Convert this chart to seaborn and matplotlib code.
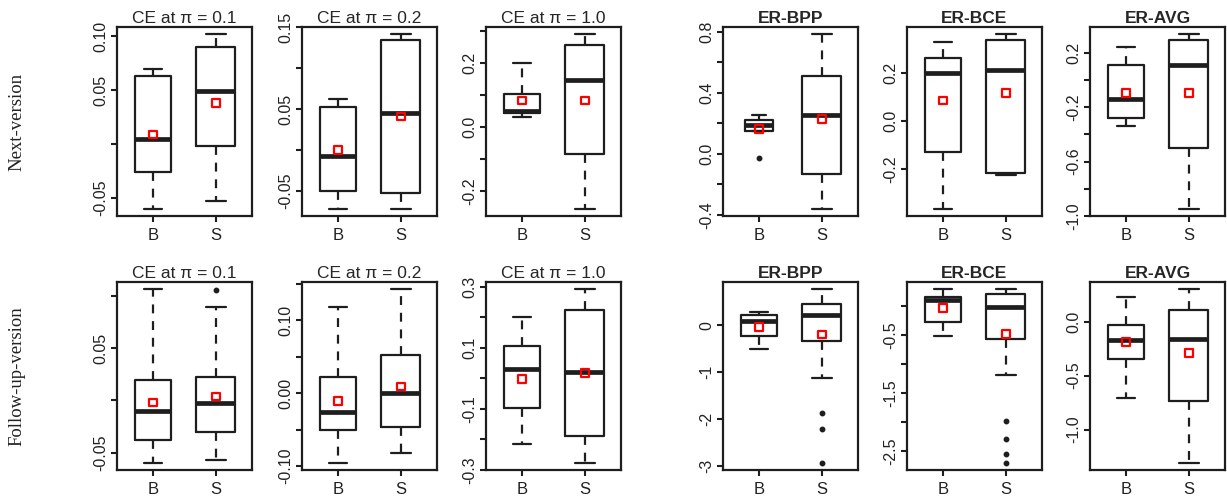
import numpy as np
import pandas as pd
import matplotlib
matplotlib.use("Agg")
import matplotlib.pyplot as plt
import seaborn as sns

sns.set_theme(style="ticks")
plt.rcParams["font.family"] = ["Liberation Sans", "DejaVu Sans"]

titles = ["CE at π = 0.1", "CE at π = 0.2", "CE at π = 1.0", "ER-BPP", "ER-BCE", "ER-AVG"]
row_labels = ["Next-version", "Follow-up-version"]
groups = ["B", "S"]

# box summaries: (lower whisker, Q1, median, Q3, upper whisker)
next_b = [(-0.060, -0.026, 0.005, 0.063, 0.070),
          (-0.072, -0.050, -0.007, 0.053, 0.063),
          (0.031, 0.043, 0.050, 0.103, 0.200),
          (0.150, 0.153, 0.192, 0.223, 0.257),
          (-0.365, -0.128, 0.200, 0.262, 0.328),
          (-0.336, -0.277, -0.141, 0.106, 0.237)]
next_s = [(-0.053, -0.002, 0.049, 0.090, 0.102),
          (-0.072, -0.053, 0.046, 0.135, 0.142),
          (-0.257, -0.084, 0.145, 0.257, 0.290),
          (-0.362, -0.135, 0.257, 0.510, 0.787),
          (-0.223, -0.215, 0.209, 0.336, 0.360),
          (-0.948, -0.504, 0.106, 0.293, 0.336)]
follow_b = [(-0.060, -0.038, -0.010, 0.020, 0.107),
            (-0.096, -0.050, -0.026, 0.022, 0.118),
            (-0.216, -0.097, 0.032, 0.106, 0.200),
            (-0.500, -0.238, 0.086, 0.216, 0.287),
            (-0.510, -0.276, 0.114, 0.154, 0.300),
            (-0.710, -0.350, -0.172, -0.031, 0.234)]
follow_s = [(-0.057, -0.030, -0.002, 0.023, 0.090),
            (-0.082, -0.046, 0.000, 0.053, 0.143),
            (-0.277, -0.190, 0.021, 0.225, 0.293),
            (-1.116, -0.338, 0.216, 0.453, 0.770),
            (-1.180, -0.556, -0.014, 0.218, 0.300),
            (-1.310, -0.734, -0.156, 0.110, 0.304)]

next_b_mean = [0.009, 0.000, 0.082, 0.162, 0.084, -0.096]
next_s_mean = [0.038, 0.041, 0.082, 0.230, 0.116, -0.096]
follow_b_mean = [-0.002, -0.011, -0.001, -0.036, -0.030, -0.187]
follow_s_mean = [0.004, 0.009, 0.018, -0.194, -0.480, -0.287]

next_b_out = [[], [], [], [-0.027], [], []]
next_s_out = [[], [], [], [], [], []]
follow_b_out = [[], [], [], [], [], []]
follow_s_out = [[0.106], [], [], [-1.872, -2.21, -2.93], [-1.97, -2.29, -2.55, -2.70], []]

next_ticks = [[-0.05, 0.0, 0.05, 0.10],
              [-0.05, 0.0, 0.05, 0.10, 0.15],
              [-0.2, -0.1, 0.0, 0.1, 0.2, 0.3],
              [-0.4, -0.2, 0.0, 0.2, 0.4, 0.6, 0.8],
              [-0.2, 0.0, 0.2],
              [-1.0, -0.8, -0.6, -0.4, -0.2, 0.0, 0.2]]
next_labels = [["-0.05", "", "0.05", "0.10"],
               ["-0.05", "", "0.05", "", "0.15"],
               ["-0.2", "", "0.0", "", "0.2", ""],
               ["-0.4", "", "0.0", "", "0.4", "", "0.8"],
               ["-0.2", "0.0", "0.2"],
               ["-1.0", "", "-0.6", "", "-0.2", "", "0.2"]]
follow_ticks = [[-0.05, 0.0, 0.05, 0.10],
                [-0.10, -0.05, 0.0, 0.05, 0.10, 0.15],
                [-0.3, -0.2, -0.1, 0.0, 0.1, 0.2, 0.3],
                [-3, -2, -1, 0],
                [-2.5, -2.0, -1.5, -1.0, -0.5, 0.0],
                [-1.0, -0.5, 0.0]]
follow_labels = [["-0.05", "", "0.05", ""],
                 ["-0.10", "", "0.00", "", "0.10", ""],
                 ["-0.3", "", "-0.1", "", "0.1", "", "0.3"],
                 ["-3", "-2", "-1", "0"],
                 ["-2.5", "", "-1.5", "", "-0.5", ""],
                 ["-1.0", "-0.5", "0.0"]]

ink = "#1e1e1e"
lefts = [117, 302, 486, 723, 907, 1090]
W, H = 1227, 499

fig = plt.figure(figsize=(12.27, 4.99), dpi=100)


def draw_panel(ax, b, s, bmean, smean, bout, sout, title, ticks, labels, bold, widths):
    stats = [dict(whislo=b[0], q1=b[1], med=b[2], q3=b[3], whishi=b[4], fliers=bout, label="B"),
             dict(whislo=s[0], q1=s[1], med=s[2], q3=s[3], whishi=s[4], fliers=sout, label="S")]
    ax.bxp(stats, positions=[1, 2], widths=widths, showfliers=True,
           boxprops=dict(color=ink, lw=1.6),
           medianprops=dict(color=ink, lw=3.4, solid_capstyle="butt"),
           whiskerprops=dict(color=ink, lw=1.6, linestyle=(0, (4, 3.5))),
           capprops=dict(color=ink, lw=1.6),
           flierprops=dict(marker="o", markersize=3.2, markerfacecolor=ink,
                           markeredgecolor=ink, linestyle="none"))
    means = pd.DataFrame({"x": [1, 2], "y": [bmean, smean]})
    sns.scatterplot(data=means, x="x", y="y", ax=ax, marker="s", s=30, color="red",
                    facecolor="none", edgecolor="red", linewidth=1.6, zorder=5, legend=False)
    vals = list(b) + list(s) + bout + sout
    lo, hi = min(vals), max(vals)
    pad = 0.04 * (hi - lo)
    ax.set_ylim(lo - pad, hi + pad)
    ax.set_xlim(0.42, 2.58)
    ax.set_xticks([1, 2])
    ax.set_xticklabels(groups, fontsize=12)
    ax.set_yticks(ticks)
    ax.set_yticklabels(labels, fontsize=11.5, rotation=90, va="center")
    ax.set(xlabel="", ylabel="")
    ax.set_title(title, fontsize=12.5, pad=3, fontweight="bold" if bold else "normal")
    for sp in ax.spines.values():
        sp.set_linewidth(1.6)
        sp.set_color(ink)
    ax.tick_params(axis="both", direction="out", length=4, width=1.5, color=ink, labelcolor="#222222")
    ax.tick_params(axis="y", pad=2)
    ax.tick_params(axis="x", pad=5)


rows = [(27, 216, next_b, next_s, next_b_mean, next_s_mean, next_b_out, next_s_out, next_ticks, next_labels),
        (282, 470, follow_b, follow_s, follow_b_mean, follow_s_mean, follow_b_out, follow_s_out, follow_ticks, follow_labels)]

for r, (top, bot, bb, ss, bm, sm, bo, so, tk, tl) in enumerate(rows):
    for i in range(6):
        ax = fig.add_axes([lefts[i] / W, (H - bot) / H, 135 / W, (bot - top) / H])
        widths = [0.58, 0.63]
        if r == 0 and i == 3:
            widths = [0.45, 0.63]
        draw_panel(ax, bb[i], ss[i], bm[i], sm[i], bo[i], so[i], titles[i], tk[i], tl[i], i >= 3, widths)
    fig.text(17 / W, (H - (top + bot) / 2) / H, row_labels[r], rotation=90, ha="center", va="center",
             fontsize=13.5, family=["Liberation Serif", "DejaVu Serif"], color="#222222")

fig.savefig("out.png", dpi=100)
